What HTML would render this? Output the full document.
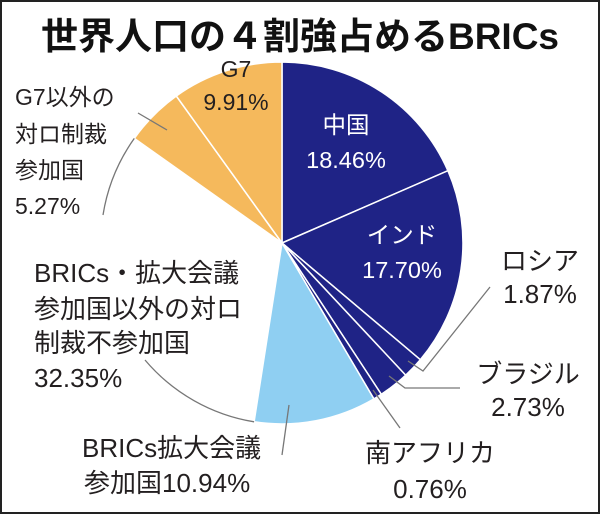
<!DOCTYPE html>
<html><head><meta charset="utf-8"><style>
html,body{margin:0;padding:0;background:#fff}
svg{display:block}
text{font-family:"Liberation Sans","Noto Sans CJK JP",sans-serif;font-size:26px;fill:#231f20}
.s{font-size:23px}
.w{fill:#fff;font-size:23.5px}
</style></head><body>
<svg width="600" height="514" viewBox="0 0 600 514" xmlns="http://www.w3.org/2000/svg">
<rect x="1" y="1" width="598" height="512" fill="#fff" stroke="#222" stroke-width="2"/>
<text x="300" y="49" text-anchor="middle" style="font-size:37px;font-weight:bold;fill:#111">世界人口の４割強占めるBRICs</text>
<g stroke="#fff" stroke-width="1.5">
<path d="M282,243 L282,62 A181,181 0 0 1 447.9,170.7 Z" fill="#1f2386"/>
<path d="M282,243 L447.9,170.7 A181,181 0 0 1 420.3,359.7 Z" fill="#1f2386"/>
<path d="M282,243 L420.3,359.7 A181,181 0 0 1 405.7,375.2 Z" fill="#1f2386"/>
<path d="M282,243 L405.7,375.2 A181,181 0 0 1 381.3,394.3 Z" fill="#1f2386"/>
<path d="M282,243 L381.3,394.3 A181,181 0 0 1 373.9,398.9 Z" fill="#1f2386"/>
<path d="M282,243 L373.9,398.9 A181,181 0 0 1 254.1,421.8 Z" fill="#8fcff2"/>
<path d="M282,243 L134.3,138.4 A181,181 0 0 1 176.3,96.0 Z" fill="#f5b95c"/>
<path d="M282,243 L176.3,96.0 A181,181 0 0 1 282,62 Z" fill="#f5b95c"/>
</g>
<g fill="none" stroke="#777" stroke-width="1.3">
<path d="M254.1,421.8 A181,181 0 0 1 145,360"/>
<path d="M103,215 A181,181 0 0 1 134.3,138.4"/>
<polyline points="138,113 167,130"/>
<polyline points="408,361 423,371 490,287"/>
<polyline points="389,376 405,388 460,388"/>
<polyline points="373,390 400,428"/>
<polyline points="289,405 282,455"/>
</g>
<text x="236" y="77" text-anchor="middle" class="s">G7</text>
<text x="236" y="110" text-anchor="middle" class="s">9.91%</text>
<text x="346" y="133" text-anchor="middle" class="w">中国</text>
<text x="346" y="168" text-anchor="middle" class="w">18.46%</text>
<text x="402" y="243" text-anchor="middle" class="w">インド</text>
<text x="402" y="278" text-anchor="middle" class="w">17.70%</text>
<text x="540" y="270" text-anchor="middle">ロシア</text>
<text x="540" y="303" text-anchor="middle">1.87%</text>
<text x="528" y="383" text-anchor="middle">ブラジル</text>
<text x="528" y="416" text-anchor="middle">2.73%</text>
<text x="430" y="462" text-anchor="middle">南アフリカ</text>
<text x="430" y="498" text-anchor="middle">0.76%</text>
<text x="82" y="457">BRICs拡大会議</text>
<text x="84" y="492">参加国10.94%</text>
<text x="34" y="282">BRICs・拡大会議</text>
<text x="34" y="318">参加国以外の対ロ</text>
<text x="34" y="352">制裁不参加国</text>
<text x="34" y="387">32.35%</text>
<text x="15" y="105" class="s">G7以外の</text>
<text x="15" y="142" class="s">対ロ制裁</text>
<text x="15" y="178" class="s">参加国</text>
<text x="15" y="214" class="s">5.27%</text>
</svg>
</body></html>
